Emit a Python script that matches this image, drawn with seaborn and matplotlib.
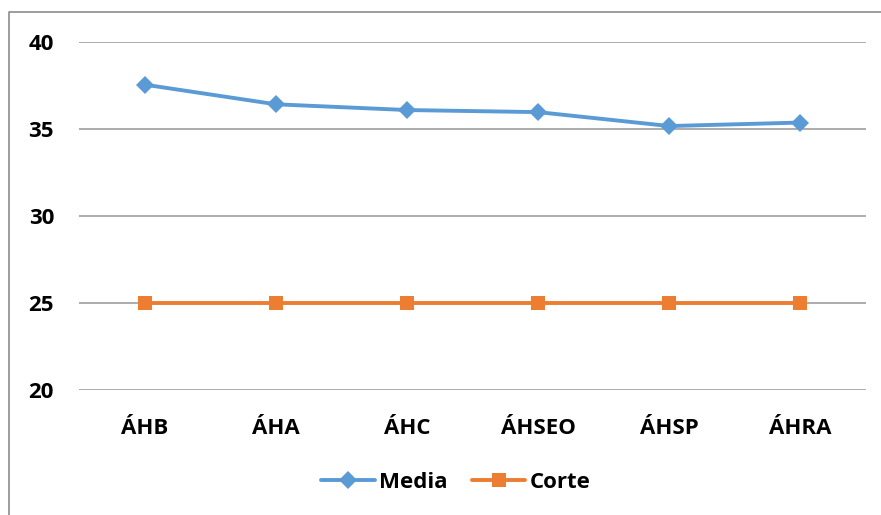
import matplotlib
matplotlib.use("Agg")
import matplotlib.pyplot as plt
from matplotlib.lines import Line2D
import seaborn as sns
import pandas as pd

# Scale scores per area
areas = ["ÁHB", "ÁHA", "ÁHC", "ÁHSEO", "ÁHSP", "ÁHRA"]
media = [37.55, 36.42, 36.09, 35.97, 35.17, 35.37]
corte = [25, 25, 25, 25, 25, 25]
y_ticks = [20, 25, 30, 35, 40]

blue = "#5B9BD5"
orange = "#ED7D31"
grid_col = "#A6A6A6"

sns.set_theme(style="white")
plt.rcParams["font.family"] = ["Open Sans", "DejaVu Sans"]

df = pd.DataFrame({
    "area": areas * 2,
    "pos": list(range(len(areas))) * 2,
    "valor": media + corte,
    "serie": ["Media"] * len(areas) + ["Corte"] * len(areas),
})

fig = plt.figure(figsize=(8.81, 5.15), dpi=100)
W, H = 881, 515
ax = fig.add_axes([79 / W, 1 - 390 / H, (866 - 79) / W, (390 - 42) / H])

sns.lineplot(
    data=df, x="pos", y="valor", hue="serie", style="serie",
    palette={"Media": blue, "Corte": orange},
    markers={"Media": "D", "Corte": "s"}, dashes=False,
    markersize=9, linewidth=2.8, markeredgewidth=0,
    legend=False, ax=ax,
)
# square markers a bit larger than diamonds
for line in ax.lines:
    if line.get_marker() == "s":
        line.set_markersize(10.5)

ax.set_xlim(-0.5, len(areas) - 0.5)
ax.set_ylim(20, 40)
ax.set_yticks(y_ticks)
ax.set_xticks(range(len(areas)))
ax.set_xticklabels(areas)
ax.set_xlabel("")
ax.set_ylabel("")
for s in ax.spines.values():
    s.set_visible(False)
ax.yaxis.grid(True, color=grid_col, linewidth=1.3)
ax.set_axisbelow(True)
ax.tick_params(axis="both", length=0, labelsize=16)
ax.tick_params(axis="y", pad=18)
ax.tick_params(axis="x", pad=20)
for lab in ax.get_xticklabels() + ax.get_yticklabels():
    lab.set_fontweight("bold")
    lab.set_color("black")

handles = [
    Line2D([], [], color=blue, marker="D", markersize=9, linewidth=2.8, markeredgewidth=0),
    Line2D([], [], color=orange, marker="s", markersize=10.5, linewidth=2.8, markeredgewidth=0),
]
fig.legend(
    handles, ["Media", "Corte"], loc="center", bbox_to_anchor=(456 / W, 1 - 482 / H),
    ncol=2, frameon=False, handlelength=2.4, handletextpad=0.2, columnspacing=1.1,
    prop={"weight": "bold", "size": 16}, labelcolor="black",
)

# chart border (top and left edges)
fig.add_artist(Line2D([9 / W, 9 / W, 1], [0, 1 - 12 / H, 1 - 12 / H],
                      transform=fig.transFigure, color="#8C8C8C", linewidth=1.2))

fig.savefig("out.png", dpi=100)
